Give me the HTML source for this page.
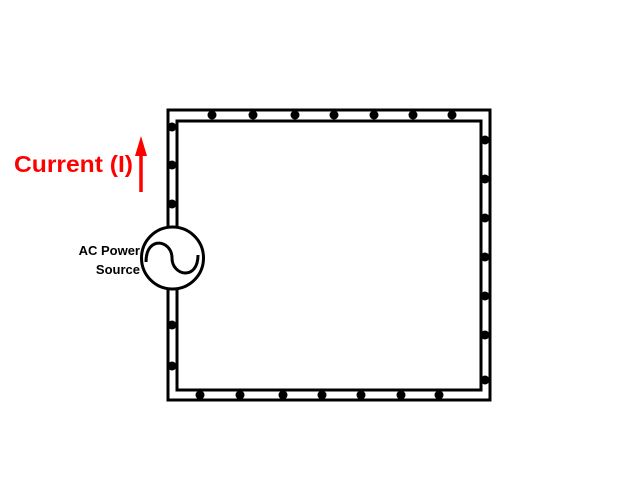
<!DOCTYPE html>
<html><head><meta charset="utf-8"><style>html,body{margin:0;padding:0;background:#fff;}svg{display:block}</style></head>
<body>
<svg width="640" height="480" viewBox="0 0 640 480" xmlns="http://www.w3.org/2000/svg">
<rect x="0" y="0" width="640" height="480" fill="#fff"/>
<rect x="168" y="110" width="322" height="290" fill="none" stroke="#000" stroke-width="3"/>
<rect x="177" y="121" width="304" height="269" fill="none" stroke="#000" stroke-width="3"/>
<g fill="#000">
<circle cx="212" cy="115" r="4.5"/><circle cx="253" cy="115" r="4.5"/><circle cx="295" cy="115" r="4.5"/><circle cx="334" cy="115" r="4.5"/><circle cx="374" cy="115" r="4.5"/><circle cx="413" cy="115" r="4.5"/><circle cx="452" cy="115" r="4.5"/>
<circle cx="172" cy="127" r="4.5"/><circle cx="172" cy="165" r="4.5"/><circle cx="172" cy="204" r="4.5"/><circle cx="172" cy="325" r="4.5"/><circle cx="172" cy="366" r="4.5"/>
<circle cx="485" cy="140" r="4.5"/><circle cx="485" cy="179" r="4.5"/><circle cx="485" cy="218" r="4.5"/><circle cx="485" cy="257" r="4.5"/><circle cx="485" cy="296" r="4.5"/><circle cx="485" cy="335" r="4.5"/><circle cx="485" cy="380" r="4.5"/>
<circle cx="200" cy="395" r="4.5"/><circle cx="240" cy="395" r="4.5"/><circle cx="283" cy="395" r="4.5"/><circle cx="322" cy="395" r="4.5"/><circle cx="361" cy="395" r="4.5"/><circle cx="401" cy="395" r="4.5"/><circle cx="439" cy="395" r="4.5"/>
</g>
<circle cx="172.5" cy="258" r="31" fill="#fff" stroke="#000" stroke-width="3"/>
<path d="M146,262 C146,235 172,240 172,258 C172,276 198,281 198,255" fill="none" stroke="#000" stroke-width="3"/>
<text x="140" y="255" text-anchor="end" font-family="Liberation Sans, sans-serif" font-weight="bold" font-size="13">AC Power</text>
<text x="140" y="274" text-anchor="end" font-family="Liberation Sans, sans-serif" font-weight="bold" font-size="13">Source</text>
<text x="14" y="172" font-family="Liberation Sans, sans-serif" font-weight="bold" font-size="23" fill="#f00" textLength="119" lengthAdjust="spacingAndGlyphs">Current (I)</text>
<line x1="141" y1="192" x2="141" y2="152" stroke="#f00" stroke-width="3.5"/>
<polygon points="141,136 135,156 147,156" fill="#f00"/>
</svg>
</body></html>
